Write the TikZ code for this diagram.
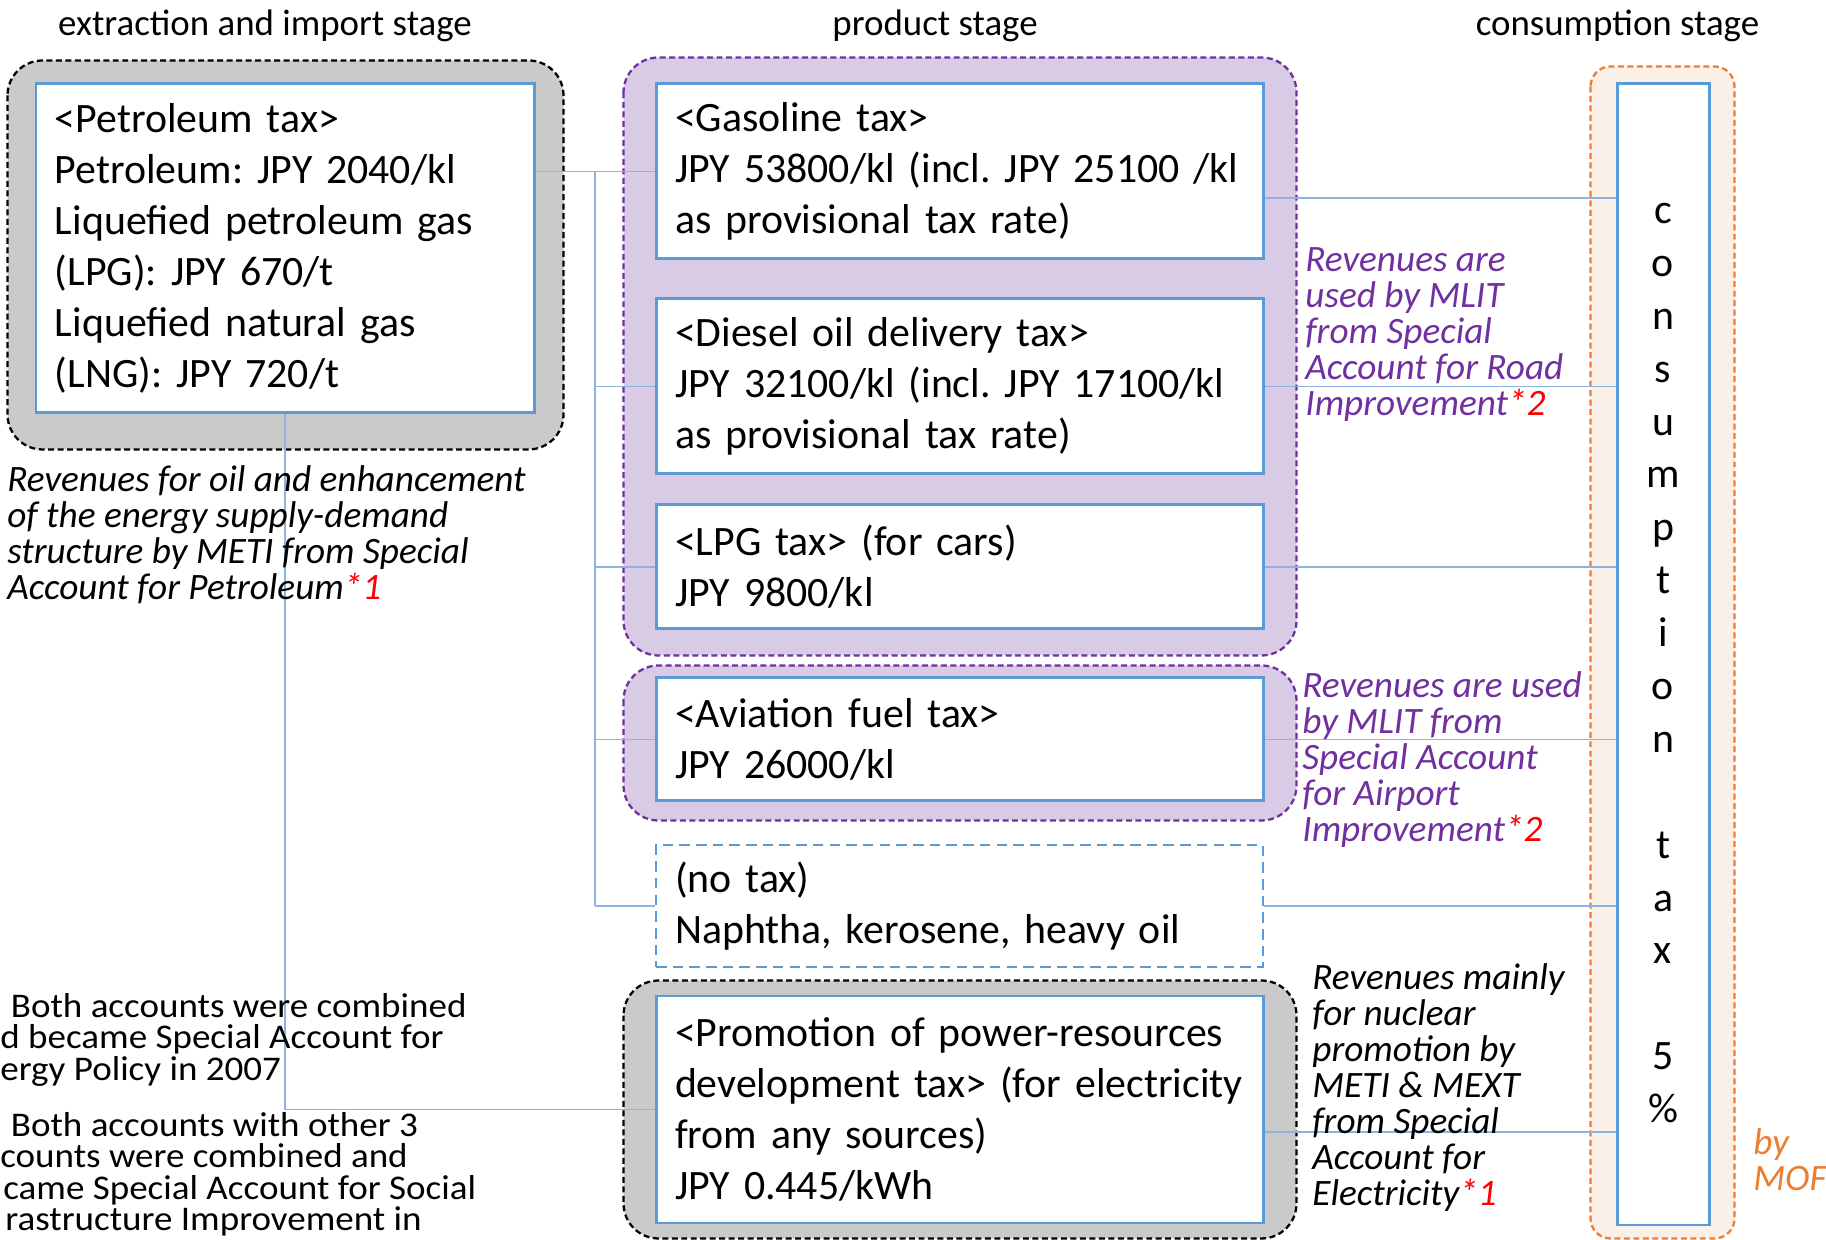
\documentclass[tikz,border=0pt]{standalone}
\usepackage{fontspec}
\setmainfont{Carlito}
\newfontfamily\footfont[FakeStretch=1.07]{Carlito}
\usepackage{tikz}
\usetikzlibrary{positioning,calc,backgrounds}
\definecolor{boxblue}{HTML}{5B9BD5}
\definecolor{linkblue}{HTML}{8CB4E0}
\definecolor{grpgray}{HTML}{CACACA}
\definecolor{grppurple}{HTML}{7030A0}
\definecolor{lavender}{HTML}{D9CAE6}
\definecolor{moforange}{HTML}{ED7D31}
\definecolor{peach}{HTML}{FBF0E7}
\definecolor{footred}{HTML}{FF0000}
\frenchspacing

\begin{document}
\begin{tikzpicture}[
  taxbox/.style={draw=boxblue, line width=1.7pt, fill=white, align=left, inner xsep=0.38cm, text width=11.38cm, minimum height=3.5cm, font=\fontsize{23.8}{29}\selectfont},
  group/.style={line width=1.3pt, rounded corners=0.7cm, dash pattern=on 3.4pt off 2pt},
  link/.style={draw=linkblue, line width=1pt},
  heading/.style={font=\fontsize{21}{25}\selectfont, anchor=base},
  note/.style={font=\fontsize{21.2}{20.5}\selectfont\itshape, align=left, anchor=north west, inner sep=0pt},
  footnote/.style={font=\footfont\fontsize{19.7}{17.9}\selectfont, align=left, anchor=north west, inner sep=0pt},
]
\useasboundingbox (0,0) rectangle (36.52,24.8);

% Stage headings
\node[heading] (hextr) at (5.30,24.08) {extraction and import stage};
\node[heading] (hprod) at (18.70,24.08) {product stage};
\node[heading] (hcons) at (32.35,24.08) {consumption stage};

% Tax boxes
\node[taxbox, text width=9.2cm, minimum height=6.58cm] (petro) at (5.70,19.83) {<Petroleum tax>\\Petroleum: JPY 2040/kl\\Liquefied petroleum gas\\(LPG): JPY 670/t\\Liquefied natural gas\\(LNG): JPY 720/t};
\node[taxbox] (gas)    at (19.19,21.37) {<Gasoline tax>\\\mbox{JPY 53800/kl (incl. JPY 25100 /kl}\\as provisional tax rate)};
\node[taxbox] (diesel) at (19.19,17.07) {<Diesel oil delivery tax>\\\mbox{JPY 32100/kl (incl. JPY 17100/kl}\\as provisional tax rate)};
\node[taxbox, minimum height=2.48cm] (lpg)  at (19.19,13.46) {<LPG tax> (for cars)\\JPY 9800/kl};
\node[taxbox, minimum height=2.46cm] (avia) at (19.19,10.01) {<Aviation fuel tax>\\JPY 26000/kl};
\node[taxbox, minimum height=2.44cm, line width=1.2pt, dash pattern=on 6pt off 3.5pt] (notax) at (19.19,6.68) {(no tax)\\Naphtha, kerosene, heavy oil};
\node[taxbox, minimum height=4.54cm] (promo) at (19.19,2.61) {\mbox{<Promotion of power-resources}\\\mbox{development tax> (for electricity}\\from any sources)\\JPY 0.445/kWh};
\node[taxbox, text width=, inner sep=0pt, minimum width=1.84cm, minimum height=22.82cm, align=center, font=\fontsize{23.8}{30.1}\selectfont] (cons) at (33.26,11.71) {\rule{0pt}{0.75cm}c\\o\\n\\s\\u\\m\\p\\t\\i\\o\\n\\~\\t\\a\\x\\~\\5\\\%};

% Groups behind the boxes
\begin{scope}[on background layer]
\draw[group, fill=grpgray] ($(petro.north west)+(-0.54,0.44)$) rectangle ($(petro.south east)+(0.56,-0.70)$);
\draw[group, draw=grppurple, fill=lavender] ($(gas.north west)+(-0.62,0.50)$) rectangle ($(lpg.south east)+(0.64,-0.50)$);
\draw[group, draw=grppurple, fill=lavender] ($(avia.north west)+(-0.62,0.22)$) rectangle ($(avia.south east)+(0.64,-0.36)$);
\draw[group, fill=grpgray] ($(promo.north west)+(-0.62,0.28)$) rectangle ($(promo.south east)+(0.64,-0.28)$);
\draw[group, draw=moforange, fill=peach, rounded corners=0.4cm] ($(cons.north west)+(-0.50,0.32)$) rectangle ($(cons.south east)+(0.48,-0.24)$);
\end{scope}

% Connectors (left side)
\coordinate (trunk) at (11.90,0);
\draw[link] (petro.east |- gas.west) -- (gas.west);
\draw[link] (trunk |- gas.west) -- (trunk |- notax.west);
\foreach \n in {diesel,lpg,avia,notax}
  \draw[link] (trunk |- \n.west) -- (\n.west);
\draw[link] (petro.south) |- (promo.west);

% Connectors (right side)
\foreach \n/\dy in {gas/-0.53,diesel/0,lpg/0,avia/0,notax/0,promo/-0.45}
  \draw[link] ([yshift=\dy cm]\n.east) coordinate (r) -- (r -| cons.west);

% Revenue notes
\node[note] (petnote) at (0.14,15.50) {Revenues for oil and enhancement\\of the energy supply-demand\\structure by METI from Special\\Account for Petroleum\textcolor{footred}{*1}};
\node[note, text=grppurple] (roadnote) at (26.10,19.85) {Revenues are\\used by MLIT\\from Special\\Account for Road\\Improvement\textcolor{footred}{*2}};
\node[note, text=grppurple] (airnote) at (26.04,11.38) {Revenues are used\\by MLIT from\\Special Account\\for Airport\\Improvement\textcolor{footred}{*2}};
\node[note] (elecnote) at (26.24,5.53) {Revenues mainly\\for nuclear\\promotion by\\METI \& MEXT\\from Special\\Account for\\Electricity\textcolor{footred}{*1}};
\node[note, text=moforange] (mof) at (35.06,2.24) {by\\MOF};

% Footnotes (bottom left)
\node[footnote] (foot1) at (0,4.94) {\hspace*{0.21cm}Both accounts were combined\\d became Special Account for\\ergy Policy in 2007};
\node[footnote] (foot2) at (0,2.56) {\hspace*{0.21cm}Both accounts with other 3\\counts were combined and\\\hspace*{0.06cm}came Special Account for Social\\\hspace*{0.1cm}rastructure Improvement in};

\end{tikzpicture}
\end{document}
